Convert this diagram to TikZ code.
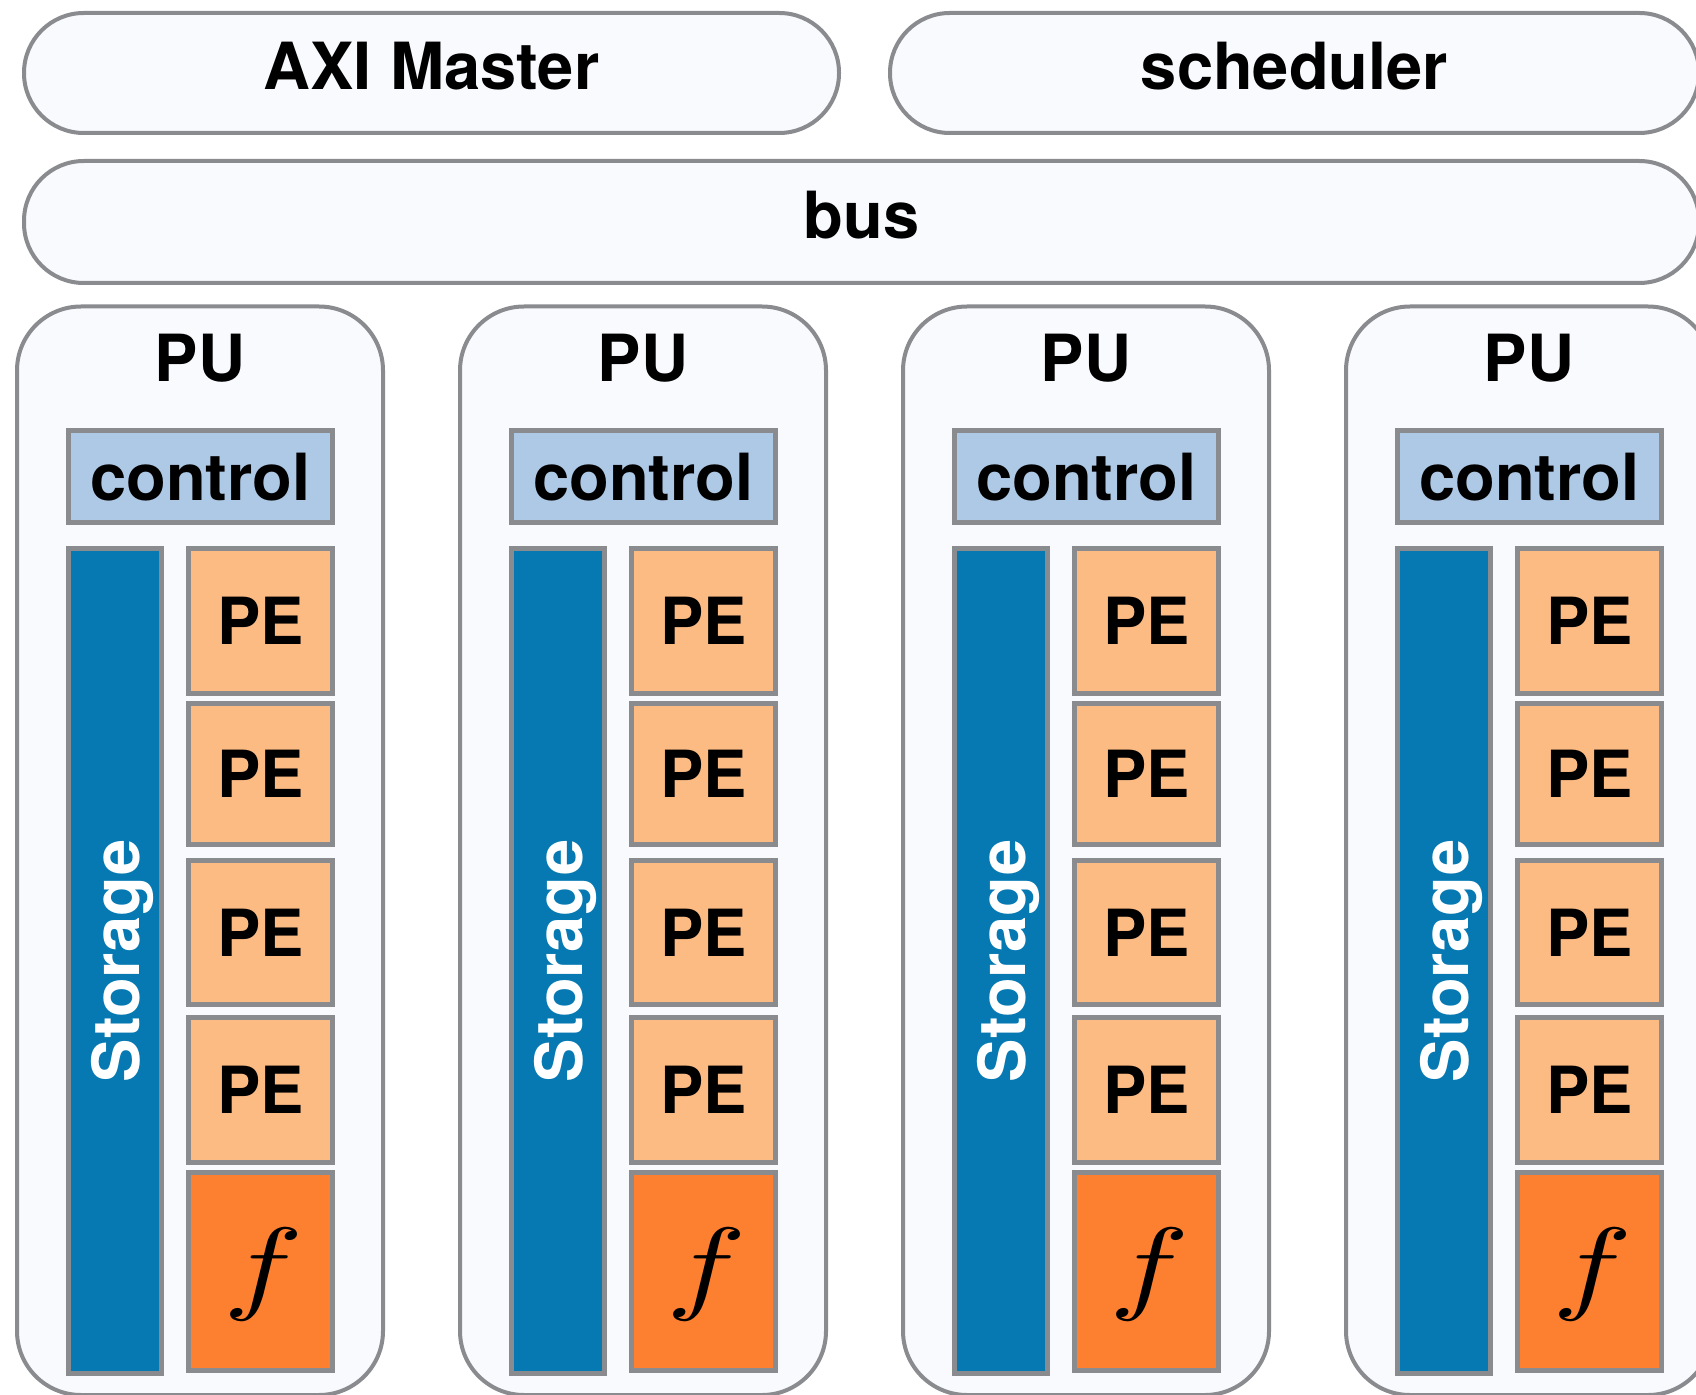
\documentclass[tikz,border=0pt]{standalone}
\usepackage{fontspec}
\setmainfont{TeX Gyre Heros}

\definecolor{edgegray}{RGB}{137,139,143}
\definecolor{panel}{RGB}{248,250,254}
\definecolor{ctrlblue}{RGB}{174,201,230}
\definecolor{storeblue}{RGB}{6,121,178}
\definecolor{peorange}{RGB}{253,187,132}
\definecolor{fnorange}{RGB}{253,127,48}

\tikzset{
  txt/.style={font=\bfseries\fontsize{32.5}{39}\selectfont, text=black},
  pill/.style={txt, draw=edgegray, fill=panel, line width=2pt,
    rounded corners=29.9pt, inner sep=0pt, outer sep=0pt,
    text height=23.4pt, text depth=7pt},
  pubox/.style={draw=edgegray, fill=panel, line width=2pt,
    rounded corners=32pt, inner sep=0pt, outer sep=0pt,
    minimum width=183pt, minimum height=544.25pt},
  blk/.style={txt, draw=edgegray, line width=2.5pt, inner sep=0pt, outer sep=0pt},
  ctrlbox/.style={blk, fill=ctrlblue, minimum width=132pt, minimum height=45.75pt},
  storebox/.style={blk, fill=storeblue, text=white, rotate=90,
    minimum width=412.5pt, minimum height=46.5pt, text depth=0pt},
  pebox/.style={blk, fill=peorange, minimum width=72pt},
  fnbox/.style={blk, fill=fnorange, minimum width=72pt, minimum height=99pt},
  fnlabel/.style={font=\normalsize, xscale=6.7, yscale=5.2, inner sep=0pt},
}

\begin{document}
\begin{tikzpicture}[x=0.5pt, y=-0.5pt]
  \useasboundingbox (0,0) rectangle (1696,1395);
  \fill[white] (0,0) rectangle (1696,1395);
  \clip (0,0) rectangle (1696,1395);

  % top row and bus
  \node[pill, minimum width=407.5pt, minimum height=60pt] (axi) at (431.5,73) {AXI Master};
  \node[pill, minimum width=404.5pt, minimum height=60pt] (sched) at (1294.5,73) {scheduler};
  \node[pill, minimum width=837.5pt, minimum height=61pt] (bus) at (861.5,222) {bus};

  % processing units
  \foreach \i/\dx in {1/0, 2/443, 3/886, 4/1329} {
    \node[pubox] (pu\i) at (\dx+200,850.75) {};
    \node[txt, anchor=base, inner sep=0pt] (putxt\i) at (\dx+200,382) {PU};
    \node[ctrlbox] (ctrl\i) at (\dx+200.5,476.75) {control};
    \node[storebox] (st\i) at (\dx+115,961) {Storage};
    \node[pebox, minimum height=72.5pt] (pe\i-1) at (\dx+260.5,621) {PE};
    \node[pebox, minimum height=70.5pt] (pe\i-2) at (\dx+260.5,774) {PE};
    \node[pebox, minimum height=72pt]   (pe\i-3) at (\dx+260.5,932.5) {PE};
    \node[pebox, minimum height=72.5pt] (pe\i-4) at (\dx+260.5,1090) {PE};
    \node[fnbox] (fn\i) at (\dx+260.5,1271.5) {};
    \node[fnlabel] (fntxt\i) at ([shift={(3,2.5)}]fn\i.center) {$f$};
  }
\end{tikzpicture}
\end{document}
